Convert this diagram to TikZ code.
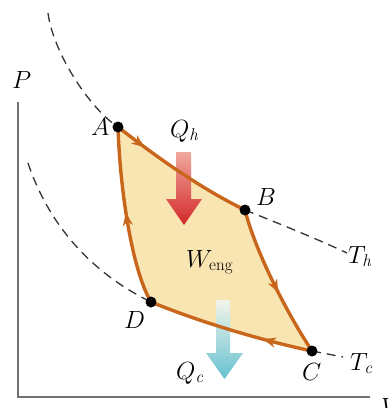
\documentclass[tikz,border=0pt]{standalone}
\usetikzlibrary{arrows.meta,decorations.markings}
\definecolor{cyclefill}{HTML}{F9E5B2}
\definecolor{cycleedge}{HTML}{C8661C}
\definecolor{axisgray}{HTML}{707070}
\definecolor{dashgray}{HTML}{333333}
\definecolor{redtop}{HTML}{F0A89C}
\definecolor{redbot}{HTML}{D3272B}
\definecolor{bluetop}{HTML}{F2F5EA}
\definecolor{bluebot}{HTML}{66C1D1}
\newcommand{\subit}[1]{\mbox{\fontsize{17}{17}\selectfont\itshape #1}}
\newcommand{\subrm}[1]{\mbox{\fontsize{17}{17}\selectfont\upshape #1}}
\tikzset{
  edgeline/.style={draw=cycleedge, line width=3.4pt, line join=round},
  markat/.style={postaction={decorate}, decoration={markings,
     mark=at position #1 with {\arrow{Stealth[length=13pt,width=10pt,inset=4pt]}}}},
  isotherm/.style={draw=dashgray, line width=1.3pt, dash pattern=on 9pt off 6pt},
  statedot/.style={circle, fill=black, inner sep=0pt, minimum size=11pt},
  lbl/.style={inner sep=0pt, anchor=base west, font=\fontsize{23}{26}\selectfont},
  axisline/.style={draw=axisgray, line width=1.8pt},
}
\begin{document}
\begin{tikzpicture}[x=1pt,y=-1pt]
\useasboundingbox (0,0) rectangle (390,408);
% axes
\coordinate (ptop) at (18,102);
\coordinate (orig) at (18,397);
\coordinate (vend) at (370,397);
\draw[axisline] (ptop) -- (orig) -- (vend);
% state points
\coordinate (A) at (118,127);
\coordinate (B) at (245,210);
\coordinate (C) at (312,351);
\coordinate (D) at (151,302);
% isotherms (dashed parts)
\coordinate (th0) at (48,13);
\coordinate (th1) at (347,253);
\coordinate (tc0) at (28,163);
\coordinate (tc1) at (343,357);
\draw[isotherm] (th0) .. controls (53,52) and (89,108) .. (A);
\draw[isotherm] (B) .. controls (280,224) and (315,238) .. (th1);
\draw[isotherm] (tc0) .. controls (45,214) and (81.5,268) .. (D);
\draw[isotherm] (C) -- (tc1);
% cycle fill
\fill[cyclefill] (A) .. controls (158,158) and (200,188) .. (B)
  .. controls (255,250) and (285,310) .. (C)
  .. controls (260,340) and (200,322) .. (D)
  .. controls (132,270) and (120,190) .. (A) -- cycle;
% heat arrows
\shade[top color=redtop, bottom color=redbot]
  (176,152) -- (191,152) -- (191,199) -- (202,199) -- (184,225) -- (166,199) -- (176,199) -- cycle;
\shade[top color=bluetop, bottom color=bluebot]
  (216,300) -- (230,300) -- (230,353) -- (243,353) -- (224.5,379) -- (206,353) -- (216,353) -- cycle;
% cycle edges
\draw[edgeline, markat=0.22] (A) .. controls (158,158) and (200,188) .. (B);
\draw[edgeline, markat=0.57] (B) .. controls (255,250) and (285,310) .. (C);
\draw[edgeline, markat=0.3] (C) .. controls (260,340) and (200,322) .. (D);
\draw[edgeline, markat=0.52] (D) .. controls (132,270) and (120,190) .. (A);
% dots
\node[statedot] (dA) at (A) {};
\node[statedot] (dB) at (B) {};
\node[statedot] (dC) at (C) {};
\node[statedot] (dD) at (D) {};
% labels
\node[lbl] (lP) at (12,88) {$P$};
\node[lbl] (lA) at (91,135) {$A$};
\node[lbl] (lQh) at (170,137) {$Q_{\subit{h}}$};
\node[lbl] (lB) at (256,205) {$B$};
\node[lbl] (lW) at (186,267) {$W_{\subrm{eng}}$};
\node[lbl] (lD) at (124,328) {$D$};
\node[lbl] (lQc) at (176,379) {$Q_{\subit{c}}$};
\node[lbl] (lC) at (302,380) {$C$};
\node[lbl] (lTh) at (348,263) {$T_{\subit{h}}$};
\node[lbl] (lTc) at (350,370) {$T_{\subit{c}}$};
\node[lbl] (lV) at (381,415) {$V$};
\end{tikzpicture}
\end{document}
